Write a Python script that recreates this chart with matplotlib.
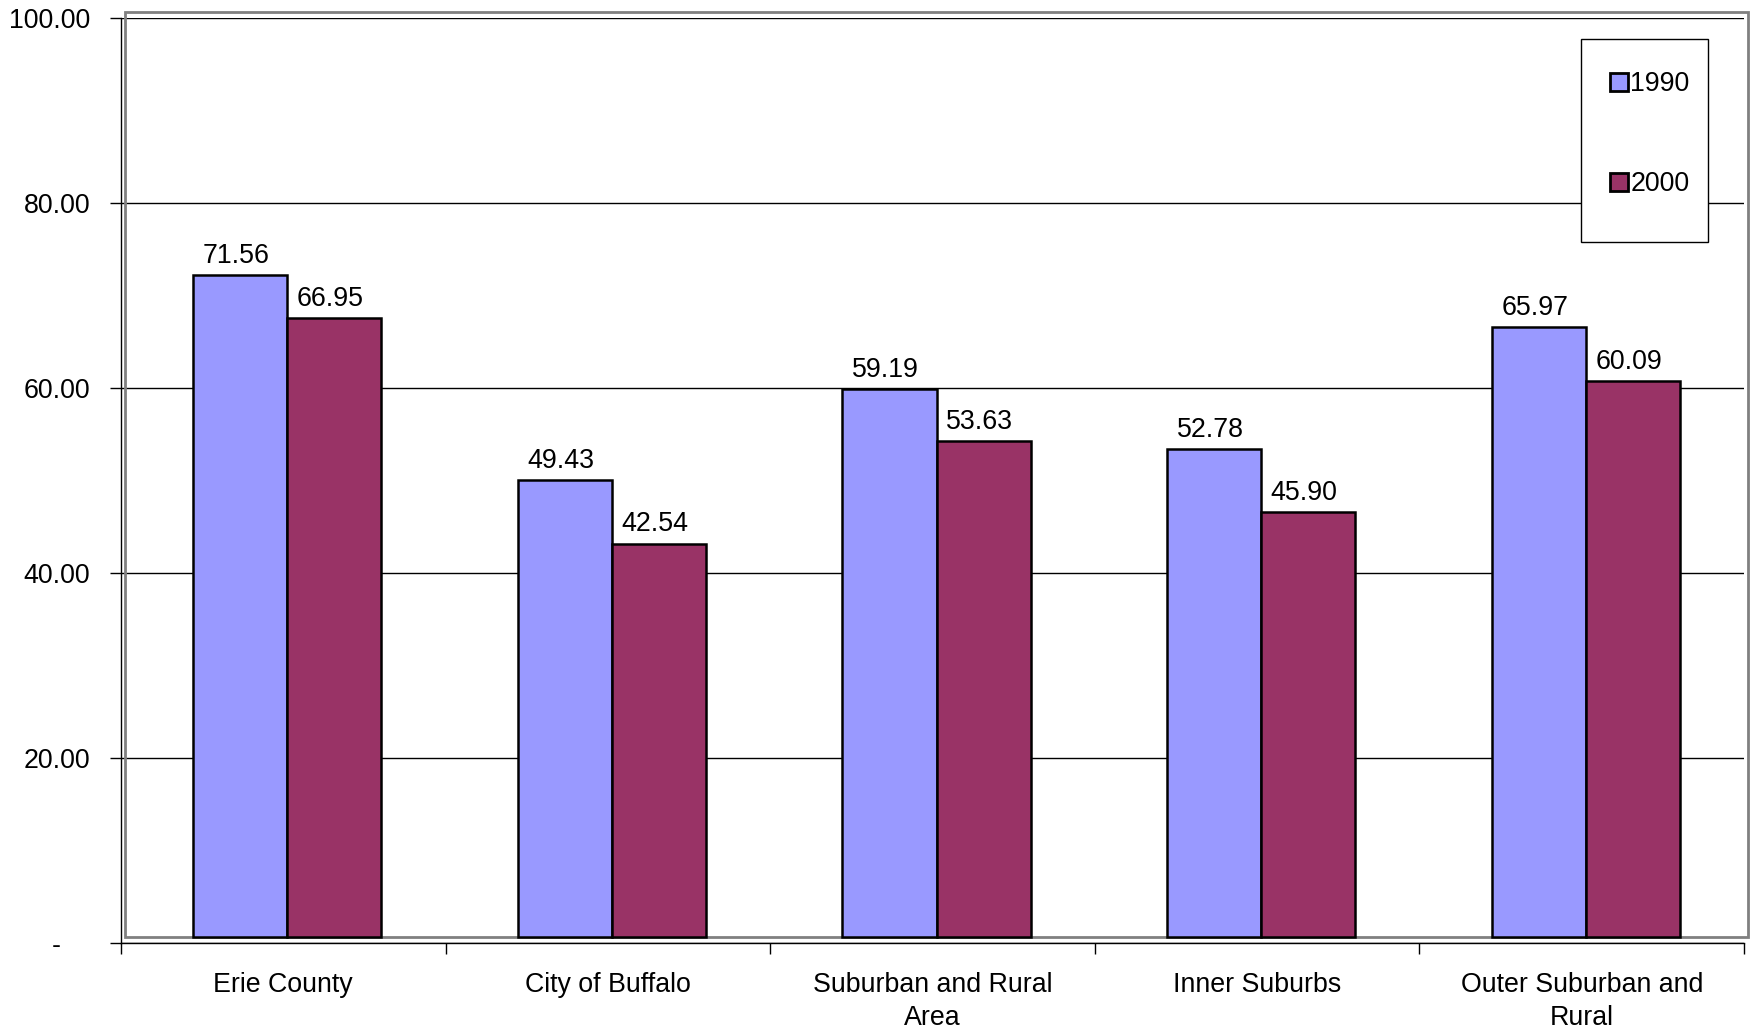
import numpy as np
import matplotlib
matplotlib.use("Agg")
import matplotlib.pyplot as plt
import matplotlib.transforms as mtransforms
from matplotlib.patches import Rectangle

plt.rcParams['font.family'] = ['Liberation Sans', 'DejaVu Sans']

categories = ['Erie County', 'City of Buffalo', 'Suburban and Rural\nArea',
              'Inner Suburbs', 'Outer Suburban and\nRural']
vals_1990 = [71.56, 49.43, 59.19, 52.78, 65.97]
vals_2000 = [66.95, 42.54, 53.63, 45.90, 60.09]
series_names = ['1990', '2000']
ytick_vals = [0, 20, 40, 60, 80, 100]
ytick_labels = ['-    ', '20.00', '40.00', '60.00', '80.00', '100.00']

colors = ['#9999FF', '#993366']
fs = 19.3

fig = plt.figure(figsize=(17.51, 10.29), dpi=100)
ax = fig.add_axes([121 / 1751, 1 - 943 / 1029, 1623 / 1751, 925 / 1029])

# 3D-ish depth shift of the back wall / bars (Excel style)
shift = mtransforms.ScaledTranslation(4 / 100, 6 / 100, fig.dpi_scale_trans)

x = np.arange(len(categories))
w = 0.29
for i, (vals, name) in enumerate([(vals_1990, series_names[0]), (vals_2000, series_names[1])]):
    pos = x + (i - 0.5) * w
    bars = ax.bar(pos, vals, w, color=colors[i], edgecolor='black', linewidth=1.8,
                  label=name, zorder=3)
    for b in bars:
        b.set_transform(ax.transData + shift)
        b.set_clip_on(False)
    for xx, v in zip(pos, vals):
        ax.annotate('%.2f' % v, (xx, v), xytext=(0, 13), textcoords='offset points',
                    ha='center', va='baseline', fontsize=fs)

wall = Rectangle((0, 0), 1, 1, transform=ax.transAxes + shift, fill=False,
                 edgecolor='#808080', linewidth=2, clip_on=False, zorder=2)
ax.add_patch(wall)

ax.set_xlim(-0.5, len(categories) - 0.5)
ax.set_ylim(0, 100)

ax.set_yticks(ytick_vals)
ax.set_yticklabels(ytick_labels, fontsize=fs)
ax.yaxis.grid(True, color='black', linewidth=1)
ax.set_axisbelow(True)

ax.set_xticks(np.arange(-0.5, len(categories), 1.0))
ax.set_xticklabels([])
ax.set_xticks(x, minor=True)
ax.set_xticklabels(categories, minor=True, fontsize=fs, linespacing=1.35)
ax.tick_params(axis='x', which='minor', length=0, pad=21)
ax.tick_params(axis='both', which='major', direction='out', length=8, width=1,
               color='black')
ax.tick_params(axis='y', pad=14)

for s in ['top', 'right']:
    ax.spines[s].set_visible(False)
for s in ['left', 'bottom']:
    ax.spines[s].set_color('black')
    ax.spines[s].set_linewidth(1)

# legend box (Excel style, content not centered in the frame)
legbox = Rectangle((0.8996, 0.7578), 0.0782, 0.2195, transform=ax.transAxes,
                   facecolor='white', edgecolor='black', linewidth=1, zorder=5)
ax.add_patch(legbox)
leg = ax.legend(loc='center', bbox_to_anchor=(0.942, 0.8746),
                borderaxespad=0, frameon=False, fontsize=fs,
                handlelength=0.65, handleheight=0.65, handletextpad=0.1,
                labelspacing=2.76, borderpad=0)
leg.set_zorder(6)
for h in leg.legend_handles:
    h.set_linewidth(2)

fig.savefig('out.png', dpi=100)
